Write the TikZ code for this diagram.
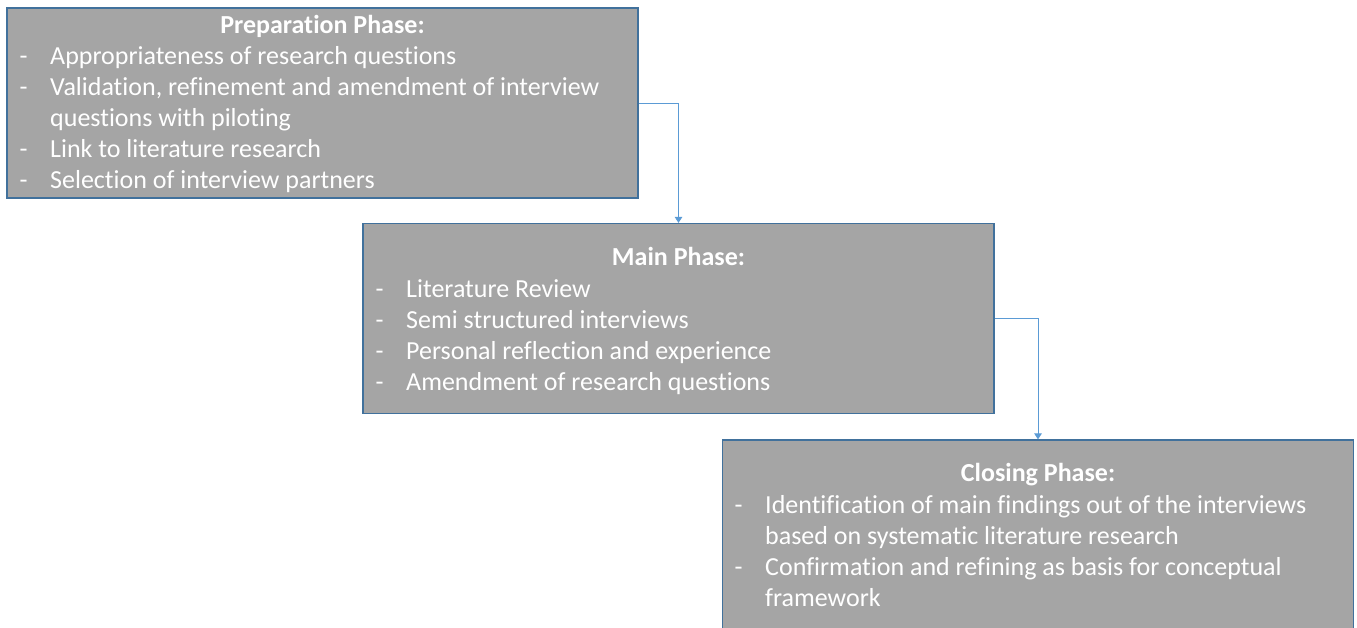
\documentclass[tikz,border=0pt]{standalone}
\usepackage{fontspec}
\setmainfont{Carlito}[Ligatures=NoCommon]
\usetikzlibrary{arrows.meta}
\definecolor{boxfill}{HTML}{A5A5A5}
\definecolor{boxline}{HTML}{41719C}
\definecolor{arrowc}{HTML}{5B9BD5}
\begin{document}
\begin{tikzpicture}[x=1pt,y=-1pt,
  phase/.style={draw=boxline, line width=1.2pt, fill=boxfill, minimum width=631pt, minimum height=190pt, inner sep=0pt},
  ttl/.style={text=white, font=\fontsize{26}{31}\selectfont\bfseries, anchor=base, inner sep=0pt},
  itm/.style={text=white, font=\fontsize{26}{31}\selectfont, anchor=base west, inner sep=0pt},
  conn/.style={draw=arrowc, line width=1pt, -{Triangle[width=7.5pt,length=6pt]}}]
\useasboundingbox (0,0) rectangle (1357,627);
\clip (0,0) rectangle (1357,627);
% boxes
\node[phase] (prep) at (322.5,103) {};
\node[phase] (main) at (678.5,318.5) {};
\node[phase] (clos) at (1038,535) {};
% connectors
\draw[conn] (prep.east) -| (main.north);
\draw[conn] (main.east) -| (clos.north);
% Preparation
\node[ttl] (pt) at (322.5,33) {Preparation Phase:};
\node[itm] (pd1) at (19.5,64) {-};
\node[itm] (p1) at (50,64) {Appropriateness of research questions};
\node[itm] (pd2) at (19.5,95) {-};
\node[itm] (p2) at (50,95) {Validation, refinement and amendment of interview};
\node[itm] (p2b) at (50,126) {questions with piloting};
\node[itm] (pd3) at (19.5,157) {-};
\node[itm] (p3) at (50,157) {Link to literature research};
\node[itm] (pd4) at (19.5,188) {-};
\node[itm] (p4) at (50,188) {Selection of interview partners};
% Main
\node[ttl] (mt) at (678.5,265) {Main Phase:};
\node[itm] (md1) at (375.5,297) {-};
\node[itm] (m1) at (406,297) {Literature Review};
\node[itm] (md2) at (375.5,328) {-};
\node[itm] (m2) at (406,328) {Semi structured interviews};
\node[itm] (md3) at (375.5,359) {-};
\node[itm] (m3) at (406,359) {Personal reflection and experience};
\node[itm] (md4) at (375.5,390) {-};
\node[itm] (m4) at (406,390) {Amendment of research questions};
% Closing
\node[ttl] (ct) at (1038,481) {Closing Phase:};
\node[itm] (cd1) at (734.5,513) {-};
\node[itm] (c1) at (765,513) {Identification of main findings out of the interviews};
\node[itm] (c1b) at (765,544) {based on systematic literature research};
\node[itm] (cd2) at (734.5,575) {-};
\node[itm] (c2) at (765,575) {Confirmation and refining as basis for conceptual};
\node[itm] (c2b) at (765,606) {framework};
\end{tikzpicture}
\end{document}
